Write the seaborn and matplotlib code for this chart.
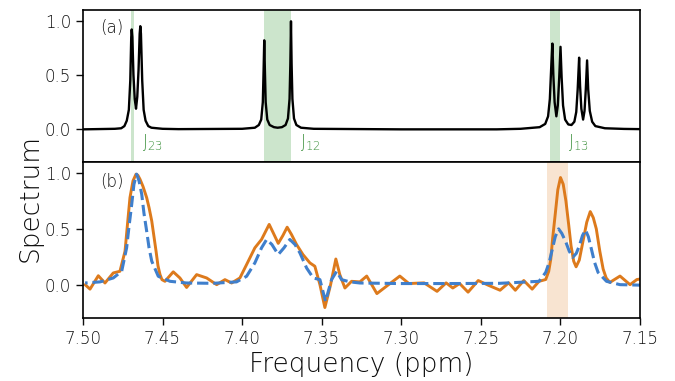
import numpy as np
import matplotlib
matplotlib.use("Agg")
import matplotlib.pyplot as plt
import seaborn as sns

# (a) reference spectrum (ppm, intensity)
ref_ppm = [7.500, 7.480, 7.476, 7.474, 7.4725, 7.4712, 7.4703, 7.4697, 7.4694, 7.4690,
           7.4683, 7.4675, 7.4667, 7.4659, 7.4651, 7.4644, 7.4640, 7.4636, 7.4628, 7.4619,
           7.4607, 7.4590, 7.4570, 7.450, 7.440, 7.400, 7.392, 7.3895, 7.3880, 7.3870,
           7.3865, 7.3861, 7.3857, 7.3852, 7.3842, 7.3827, 7.3800, 7.3777, 7.3750, 7.3727,
           7.3712, 7.3702, 7.3697, 7.3693, 7.3689, 7.3684, 7.3674, 7.3659, 7.3630, 7.355,
           7.300, 7.240, 7.225, 7.213, 7.2095, 7.2077, 7.2066, 7.2058, 7.2050, 7.2044,
           7.2036, 7.2025, 7.2016, 7.2007, 7.1999, 7.1992, 7.1983, 7.1970, 7.1950, 7.1930,
           7.1912, 7.1900, 7.1891, 7.1882, 7.1876, 7.1868, 7.1857, 7.1848, 7.1840, 7.1832,
           7.1825, 7.1815, 7.1800, 7.1780, 7.172, 7.160, 7.150]
ref_int = [0.0, 0.005, 0.01, 0.03, 0.08, 0.18, 0.45, 0.85, 0.92, 0.85,
           0.50, 0.28, 0.19, 0.30, 0.55, 0.88, 0.95, 0.88, 0.45, 0.18,
           0.08, 0.03, 0.015, 0.005, 0.002, 0.005, 0.015, 0.04, 0.09, 0.25,
           0.55, 0.82, 0.55, 0.25, 0.09, 0.04, 0.02, 0.015, 0.02, 0.04,
           0.10, 0.28, 0.60, 0.995, 0.60, 0.28, 0.10, 0.04, 0.015, 0.005,
           0.0, 0.0, 0.005, 0.02, 0.05, 0.12, 0.28, 0.55, 0.79, 0.50,
           0.25, 0.12, 0.22, 0.48, 0.76, 0.48, 0.22, 0.09, 0.045, 0.04,
           0.07, 0.16, 0.37, 0.66, 0.40, 0.19, 0.09, 0.17, 0.37, 0.635,
           0.37, 0.17, 0.07, 0.03, 0.01, 0.004, 0.002]

# (b) reconstructed spectrum (orange, solid)
rec_ppm = [7.4987, 7.4956, 7.4904, 7.4862, 7.4810, 7.4768, 7.4736, 7.4720, 7.4705, 7.4686,
           7.4667, 7.4655, 7.4642, 7.4623, 7.4600, 7.4585, 7.4568, 7.4554, 7.4541, 7.4529,
           7.4516, 7.4504, 7.4485, 7.4433, 7.4391, 7.4349, 7.4286, 7.4223, 7.4160, 7.4108,
           7.4066, 7.4014, 7.3972, 7.3920, 7.3878, 7.3830, 7.3803, 7.3773, 7.3744, 7.3717,
           7.3690, 7.3658, 7.3618, 7.3574, 7.3543, 7.3511, 7.3480, 7.3444, 7.3411, 7.3386,
           7.3354, 7.3312, 7.3260, 7.3217, 7.3153, 7.3089, 7.3009, 7.2952, 7.2856, 7.2775,
           7.2718, 7.2676, 7.2633, 7.2580, 7.2516, 7.2453, 7.2379, 7.2325, 7.2283, 7.2230,
           7.2177, 7.2134, 7.2092, 7.2073, 7.2060, 7.2048, 7.2033, 7.2016, 7.1999, 7.1982,
           7.1965, 7.1947, 7.1933, 7.1916, 7.1901, 7.1881, 7.1859, 7.1834, 7.1812, 7.1793,
           7.1774, 7.1752, 7.1731, 7.1712, 7.1689, 7.1625, 7.1562, 7.1519, 7.1477]
rec_int = [0.0, -0.04, 0.08, 0.015, 0.105, 0.12, 0.30, 0.55, 0.78, 0.93,
           0.99, 0.98, 0.945, 0.88, 0.78, 0.69, 0.57, 0.43, 0.30, 0.17,
           0.09, 0.045, 0.03, 0.115, 0.06, -0.025, 0.09, 0.06, 0.0, 0.045,
           0.015, 0.06, 0.18, 0.33, 0.405, 0.54, 0.46, 0.37, 0.44, 0.515,
           0.45, 0.36, 0.27, 0.195, 0.165, 0.0, -0.205, 0.0, 0.23, 0.09,
           -0.03, 0.03, 0.025, 0.077, -0.08, -0.01, 0.077, 0.01, 0.016, -0.06,
           0.016, -0.03, 0.01, -0.067, 0.037, -0.005, -0.05, 0.016, -0.05, 0.037,
           -0.04, 0.03, 0.046, 0.12, 0.23, 0.42, 0.62, 0.85, 0.96, 0.90,
           0.75, 0.53, 0.35, 0.21, 0.16, 0.22, 0.38, 0.56, 0.655, 0.60,
           0.50, 0.30, 0.14, 0.06, 0.02, 0.077, 0.0, 0.046, 0.055]

# (b) second estimate (blue, dashed)
est_ppm = [7.4987, 7.4893, 7.4810, 7.4757, 7.4726, 7.4711, 7.4694, 7.4680, 7.4663, 7.4648,
           7.4631, 7.4617, 7.4600, 7.4585, 7.4568, 7.4527, 7.4453, 7.4349, 7.4183, 7.4035,
           7.3972, 7.3920, 7.3878, 7.3846, 7.3813, 7.3773, 7.3737, 7.3700, 7.3668, 7.3637,
           7.3595, 7.3553, 7.3511, 7.3476, 7.3438, 7.3406, 7.3375, 7.3323, 7.3260, 7.3009,
           7.2695, 7.2381, 7.2134, 7.2092, 7.2070, 7.2050, 7.2032, 7.2011, 7.1991, 7.1965,
           7.1944, 7.1922, 7.1900, 7.1880, 7.1861, 7.1842, 7.1824, 7.1805, 7.1785, 7.1763,
           7.1710, 7.1625, 7.1477]
est_int = [0.015, 0.025, 0.06, 0.12, 0.33, 0.52, 0.72, 0.90, 0.99, 0.93,
           0.81, 0.64, 0.48, 0.33, 0.21, 0.075, 0.03, 0.015, 0.012, 0.025,
           0.075, 0.195, 0.33, 0.405, 0.36, 0.27, 0.33, 0.405, 0.36, 0.285,
           0.15, 0.06, 0.045, -0.15, 0.045, 0.12, 0.045, 0.025, 0.015, 0.01,
           0.01, 0.012, 0.03, 0.11, 0.20, 0.32, 0.43, 0.50, 0.46, 0.38,
           0.30, 0.245, 0.28, 0.35, 0.44, 0.49, 0.43, 0.32, 0.20, 0.11,
           0.03, 0.0, -0.005]

# coupling bands and labels
j_spans = [(7.4699, 7.4681), (7.3863, 7.3690), (7.2063, 7.2003)]
j_labels = ["J$_{23}$", "J$_{12}$", "J$_{13}$"]
j_label_x = [7.4632, 7.3637, 7.1953]
b_span = (7.2081, 7.1955)

sns.set_theme(style="ticks")
plt.rcParams['font.family'] = ['DejaVu Sans']
plt.rcParams['font.weight'] = 'light'
plt.rcParams['mathtext.default'] = 'regular'

orange = '#dd7a1c'
blue = '#3f7fcc'
jgreen = '#3a8f3a'
txt = '.05'

fig = plt.figure(figsize=(6.75, 3.81), dpi=100)
ax1 = fig.add_axes([0.123, 0.575, 0.825, 0.399])
ax2 = fig.add_axes([0.123, 0.165, 0.825, 0.41], sharex=ax1)

sns.lineplot(x=ref_ppm, y=ref_int, ax=ax1, color='black', linewidth=1.7)
for (a, b), lab, lx in zip(j_spans, j_labels, j_label_x):
    ax1.axvspan(a, b, color='green', alpha=0.2, linewidth=0)
    ax1.text(lx, -0.12, lab, color=jgreen, fontsize=12,
             ha='left', va='center', fontweight='light')
ax1.text(0.03, 0.88, "(a)", transform=ax1.transAxes, fontsize=12,
         color=txt, va='center', fontweight='light')

ax2.axvspan(b_span[0], b_span[1], color=orange, alpha=0.2, linewidth=0)
sns.lineplot(x=rec_ppm, y=rec_int, ax=ax2, color=orange, linewidth=2.1)
sns.lineplot(x=est_ppm, y=est_int, ax=ax2, color=blue, linewidth=2.2, linestyle='--')
ax2.text(0.03, 0.87, "(b)", transform=ax2.transAxes, fontsize=12,
         color=txt, va='center', fontweight='light')

for ax in (ax1, ax2):
    ax.set_ylim(-0.3, 1.1)
    ax.set_yticks([0.0, 0.5, 1.0])
    ax.tick_params(labelsize=12, length=5, width=1, colors=txt)
    for s in ax.spines.values():
        s.set_color('black')
        s.set_linewidth(1.2)
    ax.set_ylabel('')
    ax.set_xlabel('')

ax1.set_xlim(7.50, 7.15)
ax1.tick_params(axis='x', bottom=False, labelbottom=False)
xt = [7.50, 7.45, 7.40, 7.35, 7.30, 7.25, 7.20, 7.15]
ax2.set_xticks(xt)
ax2.set_xticklabels([f"{v:.2f}" for v in xt])
ax2.set_xlabel("Frequency (ppm)", fontsize=19, color=txt, labelpad=3,
               fontweight='light')
fig.text(0.044, 0.48, "Spectrum", rotation=90, fontsize=19, color=txt,
         ha='center', va='center', fontweight='light')

fig.savefig("out.png", dpi=100)
